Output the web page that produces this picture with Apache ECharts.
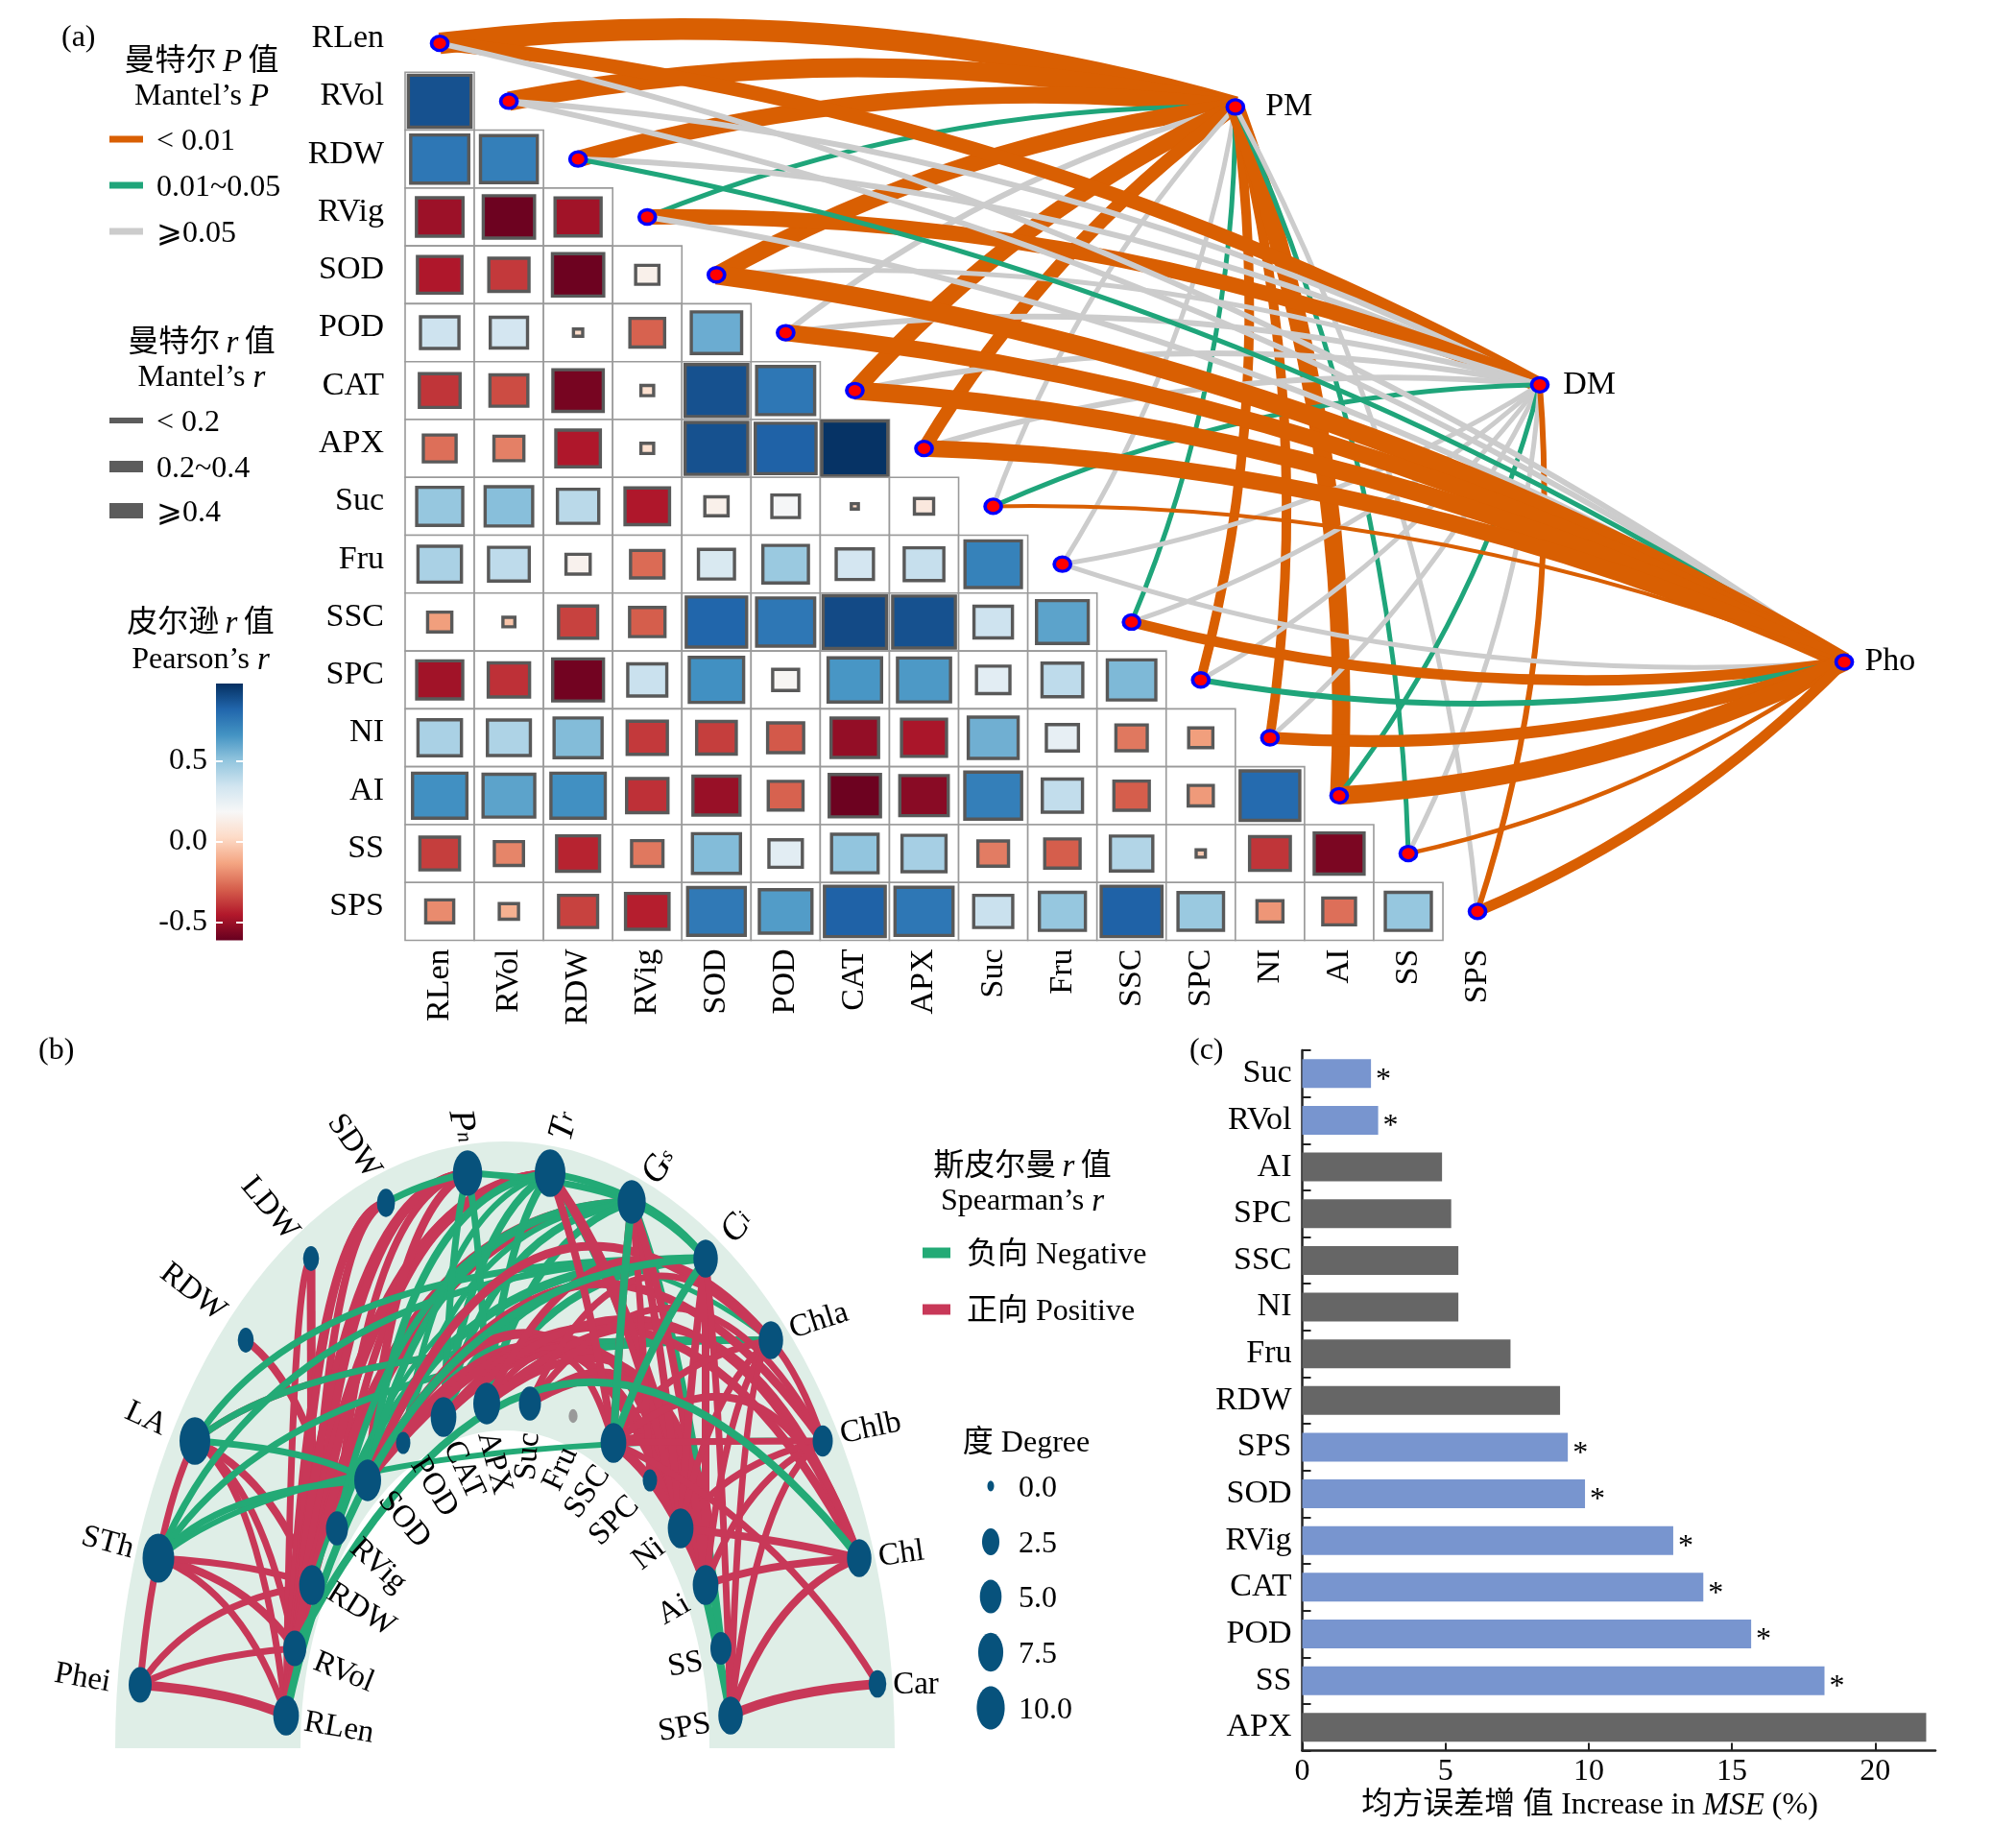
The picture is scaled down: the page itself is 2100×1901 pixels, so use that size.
<!DOCTYPE html>
<html><head><meta charset="utf-8"><style>html,body{margin:0;padding:0;background:#fff}#c{width:2100px;height:1901px}</style>
<script src="https://cdn.jsdelivr.net/npm/echarts@6/dist/echarts.min.js"></script></head><body><div id="c"></div>
<script>
// ---------- Panel (a) data ----------
const traits = ['RLen','RVol','RDW','RVig','SOD','POD','CAT','APX','Suc','Fru','SSC','SPC','NI','AI','SS','SPS'];
const corrLower = [
 [],
 [.88],
 [.76,.73],
 [-.5,-.6,-.49],
 [-.46,-.38,-.6,.14],
 [.35,.33,.03,-.29,.58],
 [-.39,-.34,-.58,.05,.88,.76],
 [-.26,-.22,-.46,.05,.88,.83,.97],
 [.49,.52,.40,-.46,.14,.19,.02,.10],
 [.44,.39,.15,-.27,.31,.48,.33,.37,.72],
 [-.15,-.045,-.36,-.3,.82,.76,.9,.88,.35,.61],
 [-.49,-.40,-.59,.36,.67,.17,.65,.64,.27,.39,.54],
 [.44,.43,.53,-.38,-.37,-.31,-.52,-.47,.57,.25,-.24,-.15],
 [.67,.61,.67,-.40,-.51,-.29,-.6,-.54,.73,.38,-.30,-.16,.80],
 [-.37,-.21,-.43,-.24,.53,.27,.5,.45,-.23,-.30,.42,-.03,-.39,-.57],
 [-.195,-.10,-.36,-.44,.75,.63,.83,.76,.36,.49,.83,.48,-.17,-.26,.49]
];
const envNames = ['PM','DM','Pho'];
const envX = [11.5,15.9,20.3];
const envY = [1.1,5.9,10.69];
// 0: P<0.01, 1: 0.01~0.05, 2: >=0.05
const pClassPM  = [0,0,0,1,0,2,0,0,2,2,1,0,0,0,1,2];
const pClassDM  = [0,2,2,0,2,2,2,2,1,2,2,2,2,1,2,0];
const pClassPho = [2,2,1,2,0,0,0,0,0,2,0,1,0,0,0,0];
const mantelRPM  = [.45,.40,.35,.10,.35,.12,.35,.28,.10,.10,.10,.20,.20,.38,.10,.10];
const mantelRDM  = [.30,.12,.12,.32,.10,.12,.12,.12,.10,.10,.10,.10,.10,.10,.10,.12];
const mantelRPho = [.12,.12,.10,.12,.40,.35,.38,.35,.08,.10,.22,.12,.25,.38,.09,.22];
const colorTicks = [-0.5,0,0.5];
// ---------- Panel (b) data ----------
const netKeys = ['Phei','STh','LA','RDWo','LDW','SDW','Pn','Tr','Gs','Ci','Chla','Chlb','Chl','Car','RLen','RVol','RDWi','RVig','SOD','POD','CAT','APX','Suc','Fru','SSC','SPC','Ni','Ai','SS','SPS'];
const netX = [146,165,203,256,324,402,487,573,658,735,803,857,895,914,298,307,325,351,383,420,462,507,552,597,639,677,709,735,751,761];
const netY = [1755,1623,1501,1396,1311,1253,1222,1222,1252,1311,1396,1501,1623,1754,1787,1717,1651,1592,1542,1503,1476,1462,1462,1475,1503,1542,1592,1651,1717,1787];
const netDegree = [5.9,13.8,12.8,1.9,1.9,2.9,11.4,12.8,10.1,7,7,4,7,2.7,8,5.9,8,5.2,9,1.3,8,9,5.2,0.1,8,1.3,8,8,4.6,7];
const netPosLeft = [
 ['Phei','RLen',1],['Phei','STh',.7],['Phei','RVol',.7],['Phei','RDWi',.7],['STh','RLen',.7],['STh','RVol',.8],['STh','RDWi',.7],
 ['LA','STh',.7],['LA','RLen',.7],['LA','RVol',.7],['LA','RDWi',.8],['LA','Chla',.7],
 ['RDWo','RVig',.8],['LDW','RDWi',.9],['LDW','RLen',.7],['SDW','RLen',.8],['SDW','RVol',.8],['SDW','RDWi',.8],
 ['RLen','Pn',.9],['RVol','Pn',.9],['RDWi','Pn',.9],['RVig','Pn',.8],['RLen','Tr',.9],['RVol','Tr',.9],['RDWi','Tr',.9],['RVig','Tr',.8],
 ['RLen','Gs',.9],['RVol','Gs',.9],['RDWi','Gs',.9],['SOD','Pn',.9]
];
const netNeg = [
 ['SDW','Pn',.7],['LA','Ci',.7],['LA','Chla',.7],['STh','Ci',.7],['STh','Chla',.7],['STh','Chlb',.6],
 ['LA','SOD',.7],['STh','SOD',.7],['RDWi','Chla',.5],
 ['RVig','Gs',.7],['RVig','Ci',.7],['SOD','Tr',.8],['SOD','Gs',.8],['SOD','Ci',.9],['POD','Tr',.6],['POD','Gs',.6],
 ['CAT','Pn',.7],['CAT','Tr',.8],['CAT','Gs',.8],['CAT','Ci',.8],['APX','Pn',.7],['APX','Tr',.8],['APX','Gs',.8],['APX','Ci',.8],
 ['Pn','Gs',.7],['Tr','Ci',.7],['Gs','Ci',.8],['Gs','SS',.9],['Tr','SPS',.8]
];
const netPosRight = [
 ['SOD','Ni',1],['SOD','Ai',1],['SOD','Chla',.9],['SOD','Chlb',.9],['SOD','Chl',.9],
 ['CAT','Ni',.8],['CAT','Ai',.8],['CAT','Chl',.8],['APX','Ni',.8],['APX','Ai',.8],['APX','SSC',.7],['APX','Chla',.8],['APX','Chl',.8],
 ['Suc','Ni',.8],['Suc','Ai',.8],['Suc','Chla',.7],['Suc','Chlb',.7],['SSC','Ni',1],['SSC','Ai',1],['Ni','Ai',.9],
 ['Tr','SSC',.8],['Tr','Ni',.8],['Tr','Ai',.8],['Gs','SSC',.8],['Gs','Ni',.8],['Gs','Ai',.8],['Gs','SPC',.7],
 ['Ci','Ni',.8],['Ci','Ai',.8],['Ci','SPS',.7],['Chla','Ni',.7],['Chla','Ai',.7],['Chla','SSC',.7],['Chla','Chlb',.7],['Chla','SPS',.7],
 ['Chlb','Ni',.7],['Chlb','Ai',.7],['Chlb','SSC',.7],['Chlb','SPS',.7],
 ['Chl','SSC',.8],['Chl','Ni',.8],['Chl','Ai',.8],['Chl','SPS',.8],['Car','SPS',1],['Car','SSC',.7]
];
const netNegLate = [['RLen','Ci',.8],['RVol','Chl',.8],['Gs','SSC',.8],['Ci','SSC',.8]];
// ---------- Panel (c) data ----------
const mseNames = ['Suc','RVol','AI','SPC','SSC','NI','Fru','RDW','SPS','SOD','RVig','CAT','POD','SS','APX'];
const mseValues = [2.4,2.65,4.88,5.2,5.45,5.45,7.27,9.0,9.27,9.87,12.95,14.0,15.67,18.23,21.78];
const mseSignificant = [1,1,0,0,0,0,0,0,1,1,1,1,1,1,0];
const mseTicks = [0,5,10,15,20];

// ---------- helpers ----------
const FONT = '"Liberation Serif","DejaVu Serif","Noto Sans CJK SC",serif';
const rdbu = ['#67001f','#b2182b','#d6604d','#f4a582','#fddbc7','#f7f7f7','#d1e5f0','#92c5de','#4393c3','#2166ac','#053061'];
const rMin=-0.613, rMax=0.978;
function hex(c){return [1,3,5].map(i=>parseInt(c.substr(i,2),16));}
function rColor(v){
  let t=(v-rMin)/(rMax-rMin)*(rdbu.length-1); t=Math.max(0,Math.min(rdbu.length-1.0001,t));
  const i=Math.floor(t), f=t-i, a=hex(rdbu[i]), b=hex(rdbu[i+1]);
  return 'rgb('+a.map((x,k)=>Math.round(x+(b[k]-x)*f)).join(',')+')';
}
const rich = {
  c:{fontFamily:FONT,fontSize:32,color:'#000'},
  i:{fontFamily:FONT,fontSize:33,fontStyle:'italic',color:'#000'}
};
const nodeRich = {
  i:{fontFamily:FONT,fontSize:38,fontStyle:'italic',color:'#000'},
  s:{fontFamily:FONT,fontSize:22,fontStyle:'italic',color:'#000'}
};
function txt(x,y,t,o){o=o||{};return {type:'text',x:x,y:y+3,z:50,style:{text:t,fontSize:o.size||32,fontFamily:FONT,fill:'#000',align:o.align||'left',verticalAlign:'middle',rich:rich}};}
function key(x,y,w,h,c){return {type:'rect',z:50,shape:{x:x,y:y-h/2,width:w,height:h},style:{fill:c}};}
const pColors=['#d95f02','#1fa57a','#cccccc'];
const keyGrey='#5c5c5c';
const NEG='#23aa76', POS='#c83858', NODE='#07527c';
const dotW=d=>7+7*Math.sqrt(d);

// ---------- derived series data ----------
const cells=[]; corrLower.forEach((row,j)=>row.forEach((r,i)=>cells.push([i,j,r])));
const mantelLinks=[];
[[pClassPM,mantelRPM],[pClassDM,mantelRDM],[pClassPho,mantelRPho]].forEach((arr,e)=>{
  traits.forEach((t,i)=>mantelLinks.push({
    coords:[[i,i],[envX[e],envY[e]]],
    lineStyle:{color:pColors[arr[0][i]],width:arr[1][i]*50,curveness:i<=8?0.1:-0.1,opacity:1}
  }));
});
const nodeScatter=traits.map((t,i)=>[i,i]);
const envDist=[21,14,11];
const envScatter=envNames.map((n,i)=>({value:[envX[i],envY[i]],name:n,label:{distance:envDist[i]}}));
const innerStart=netKeys.indexOf('RLen');
function edgeRows(list,color){return list.map(e=>{
  let a=netKeys.indexOf(e[0]),b=netKeys.indexOf(e[1]);
  if(netX[a]>netX[b]){const t=a;a=b;b=t;}
  const inners=(a>=innerStart?1:0)+(b>=innerStart?1:0);
  return {value:[netX[a],netY[a],netX[b],netY[b],e[2],inners],itemStyle:{color:color}};
});}
const netEdges=[].concat(edgeRows(netPosLeft,POS),edgeRows(netNeg,NEG),edgeRows(netPosRight,POS),edgeRows(netNegLate,NEG));
const netNodes=netKeys.map((k,i)=>[netX[i],netY[i],netDegree[i]]);
const netLabels=[
 [86,1748,-10,'Phei'],[112,1607,-15,'STh'],[152,1478,-25,'LA'],[201,1346,-38,'RDW'],[281,1259,-50,'LDW'],[369,1194,-55,'SDW'],
 [481,1173,-80,'{i|P}{s|n}'],[588,1173,75,'{i|T}{s|r}'],[687,1215,55,'{i|G}{s|s}'],[768,1278,50,'{i|C}{s|i}'],
 [853,1376,18,'Chla'],[907,1488,12,'Chlb'],[939,1619,8,'Chl'],[954,1755,0,'Car'],
 [353,1800,-10,'RLen'],[358,1742,-22,'RVol'],[376,1677,-32,'RDW'],[394,1631,-42,'RVig'],[421,1583,-50,'SOD'],[452,1549,-58,'POD'],
 [483,1531,-65,'CAT'],[515,1524,-75,'APX'],[550,1517,85,'Suc'],[584,1530,65,'Fru'],[612,1554,55,'SSC'],[640,1584,45,'SPC'],
 [676,1619,38,'Ni'],[702,1677,30,'Ai'],[714,1734,10,'SS'],[713,1800,10,'SPS']
].map(l=>({value:[l[0],l[1]],label:{formatter:l[3],rotate:l[2],rich:nodeRich}}));

// ---------- legends ----------
const gfx=[
 txt(64,37,'(a)'),txt(40,1092,'(b)'),txt(1239,1092,'(c)'),
 txt(210,62,'{c|曼特尔\u2009}{i|P}{c|\u2009值}',{align:'center'}),txt(210,98,'{c|Mantel’s }{i|P}',{align:'center'}),
 key(114,145,35,7,pColors[0]),txt(163,145,'< 0.01'),
 key(114,193,35,7,pColors[1]),txt(163,193,'0.01~0.05'),
 key(114,241,35,7,pColors[2]),txt(163,241,'⩾0.05'),
 txt(210,355,'{c|曼特尔\u2009}{i|r}{c|\u2009值}',{align:'center'}),txt(210,391,'{c|Mantel’s }{i|r}',{align:'center'}),
 key(114,438,35,6,keyGrey),txt(163,438,'< 0.2'),
 key(114,486,35,12,keyGrey),txt(163,486,'0.2~0.4'),
 key(114,532,35,16,keyGrey),txt(163,532,'⩾0.4'),
 txt(209,647,'{c|皮尔逊\u2009}{i|r}{c|\u2009值}',{align:'center'}),txt(209,685,'{c|Pearson’s }{i|r}',{align:'center'}),
 txt(1065,1213,'{c|斯皮尔曼\u2009}{i|r}{c|\u2009值}',{align:'center'}),txt(1065,1249,'{c|Spearman’s }{i|r}',{align:'center'}),
 key(961,1305,29,11,NEG),txt(1007,1305,'负向 Negative'),
 key(961,1364,29,11,POS),txt(1007,1364,'正向 Positive'),
 txt(1069,1501,'度 Degree',{align:'center'}),
 txt(1656,1878,'{c|均方误差增 值 Increase in }{i|MSE}{c| (%)}',{align:'center'})
];
[[0,1548],[2.5,1606],[5,1663],[7.5,1721],[10,1779]].forEach(d=>{
  const w=dotW(d[0]);
  gfx.push({type:'ellipse',z:50,shape:{cx:1032,cy:d[1],rx:w/2,ry:w*.775},style:{fill:NODE}});
  gfx.push(txt(1061,d[1],d[0].toFixed(1)));
});

const ringCx=526, ringBase=1821, ringOut=[406,632], ringIn=[213,331];
const axisTextC={fontFamily:FONT,fontSize:32,color:'#000'};
const axisText34={fontFamily:FONT,fontSize:34,color:'#000'};

const option={
 animation:false, backgroundColor:'#fff',
 grid:[
  {left:422,top:15,width:1549.5,height:964.5},
  {left:225,top:712,width:28,height:267.4},
  {left:0,top:1100,width:1000,height:800},
  {left:1356.5,top:1094,width:659.5,height:729.6}
 ],
 xAxis:[
  {gridIndex:0,type:'value',min:-0.5,max:21,splitLine:{show:false},axisLine:{show:false},axisTick:{show:false},
   axisLabel:Object.assign({customValues:traits.map((t,i)=>i),formatter:v=>traits[v],rotate:90,margin:9},axisText34)},
  {gridIndex:1,type:'value',min:0,max:1,show:false},
  {gridIndex:2,type:'value',min:0,max:1000,show:false},
  {gridIndex:3,type:'value',min:0,max:22.1,splitLine:{show:false},
   axisLine:{show:true,lineStyle:{color:'#222',width:2.5}},
   axisTick:{show:true,inside:true,length:8,customValues:mseTicks,lineStyle:{color:'#222',width:2}},
   axisLabel:Object.assign({customValues:mseTicks,margin:6,formatter:v=>String(v)},axisTextC)}
 ],
 yAxis:[
  {gridIndex:0,type:'value',inverse:true,min:-0.5,max:15.5,splitLine:{show:false},axisLine:{show:false},axisTick:{show:false},
   axisLabel:Object.assign({customValues:traits.map((t,i)=>i),formatter:v=>traits[v],margin:22,verticalAlign:'bottom',lineHeight:10},axisText34)},
  {gridIndex:1,type:'value',min:rMin,max:rMax,z:10,splitLine:{show:false},axisLine:{show:false},
   axisTick:{show:true,inside:true,length:7,customValues:colorTicks,lineStyle:{color:'#fff',width:2}},
   axisLabel:Object.assign({customValues:colorTicks,margin:9,formatter:v=>v.toFixed(1)},axisTextC)},
  {gridIndex:1,type:'value',position:'right',min:rMin,max:rMax,z:10,splitLine:{show:false},axisLine:{show:false},
   axisLabel:{show:false},axisTick:{show:true,inside:true,length:7,customValues:colorTicks,lineStyle:{color:'#fff',width:2}}},
  {gridIndex:2,type:'value',inverse:true,min:1100,max:1900,show:false},
  {gridIndex:3,type:'category',inverse:true,data:mseNames,
   axisLine:{show:true,lineStyle:{color:'#222',width:2.5}},
   axisTick:{show:true,inside:true,length:9,alignWithLabel:false,lineStyle:{color:'#222',width:2}},
   axisLabel:Object.assign({margin:11},axisText34)}
 ],
 series:[
  {type:'custom',xAxisIndex:0,yAxisIndex:0,data:cells,clip:false,z:2,encode:{x:0,y:1},
   renderItem:(p,api)=>{
     const c=api.coord([api.value(0),api.value(1)]), s=api.size([1,1]), r=api.value(2), f=Math.sqrt(Math.abs(r)/.98);
     const w=Math.max(6,f*s[0]-3), h=Math.max(5,f*s[1]-3);
     return {type:'group',children:[
       {type:'rect',shape:{x:c[0]-s[0]/2,y:c[1]-s[1]/2,width:s[0],height:s[1]},style:{fill:'#fff',stroke:'#9a9a9a',lineWidth:1.6}},
       {type:'rect',shape:{x:c[0]-w/2,y:c[1]-h/2,width:w,height:h},style:{fill:rColor(r),stroke:'#595959',lineWidth:3.4}}
     ]};
   }},
  {type:'lines',coordinateSystem:'cartesian2d',xAxisIndex:0,yAxisIndex:0,polyline:false,silent:true,z:3,data:mantelLinks,symbol:'none',effect:{show:false}},
  {type:'scatter',xAxisIndex:0,yAxisIndex:0,data:nodeScatter,symbol:'circle',symbolSize:[17,15],z:4,
   itemStyle:{color:'#ff0000',borderColor:'#0000ff',borderWidth:3.5,opacity:1}},
  {type:'scatter',xAxisIndex:0,yAxisIndex:0,data:envScatter,symbol:'circle',symbolSize:[17,15],z:4,
   itemStyle:{color:'#ff0000',borderColor:'#0000ff',borderWidth:3.5,opacity:1},
   label:{show:true,position:'right',formatter:p=>p.name,fontFamily:FONT,fontSize:34,color:'#000'}},
  {type:'custom',xAxisIndex:1,yAxisIndex:1,data:[[0,rMin,1,rMax]],z:2,clip:false,encode:{y:[1,3]},
   renderItem:(p,api)=>{
     const a=api.coord([0,rMax]), b=api.coord([1,rMin]);
     const stops=rdbu.map((c,i)=>({offset:1-i/(rdbu.length-1),color:c})).reverse();
     return {type:'rect',shape:{x:a[0],y:a[1],width:b[0]-a[0],height:b[1]-a[1]},
       style:{fill:new echarts.graphic.LinearGradient(0,0,0,1,stops)}};
   }},
  {type:'custom',xAxisIndex:2,yAxisIndex:3,data:[[ringCx,ringBase]],z:1,clip:false,silent:true,encode:{x:0,y:1},
   renderItem:(p,api)=>{
     const pts=[];
     for(let k=0;k<=72;k++){const t=Math.PI*k/72;pts.push(api.coord([ringCx-ringOut[0]*Math.cos(t),ringBase-ringOut[1]*Math.sin(t)]));}
     for(let k=72;k>=0;k--){const t=Math.PI*k/72;pts.push(api.coord([ringCx-ringIn[0]*Math.cos(t),ringBase-ringIn[1]*Math.sin(t)]));}
     return {type:'polygon',shape:{points:pts},style:{fill:'#dfeee7'}};
   }},
  {type:'custom',xAxisIndex:2,yAxisIndex:3,data:netEdges,z:3,clip:false,silent:true,encode:{x:0,y:1},
   renderItem:(p,api)=>{
     const a=api.coord([api.value(0),api.value(1)]), b=api.coord([api.value(2),api.value(3)]);
     const Y=1.55, inners=api.value(5), dx=b[0]-a[0], rawDy=b[1]-a[1], dy=rawDy/Y, d=Math.hypot(dx,dy);
     const ratio=Math.abs(rawDy)/Math.max(1,dx);
     const mx=(a[0]+b[0])/2, my=(a[1]+b[1])/2;
     let cx, cy;
     const arch = (inners===2 && d>120) ? 0.7 : (inners===1 && ratio<0.55 && dx>240) ? 0.5 : 0;
     if(arch){ cx=mx+arch*dy; cy=(my/Y-arch*dx)*Y; }
     else {
       // steep at the lower end, flat on arrival at the higher end
       const low=a[1]>b[1]?a:b, high=a[1]>b[1]?b:a;
       const qx=low[0]+0.2*(high[0]-low[0]), qy=high[1]-(d>300?15:0);
       let w=0.9*Math.min(1,d/270);
       if(inners===1 && low[0]>560 && high[0]<760) w*=0.4;
       cx=mx+w*(qx-mx); cy=my+w*(qy-my);
     }
     return {type:'bezierCurve',shape:{x1:a[0],y1:a[1],x2:b[0],y2:b[1],cpx1:cx,cpy1:cy},
       style:{fill:null,stroke:api.visual('color'),lineWidth:api.value(4)*10}};
   }},
  {type:'scatter',xAxisIndex:2,yAxisIndex:3,data:netNodes,z:5,symbol:'circle',
   symbolSize:v=>[dotW(v[2]),dotW(v[2])*1.55],
   itemStyle:{opacity:1,color:p=>p.value[2]<0.5?'#999999':NODE}},
  {type:'scatter',xAxisIndex:2,yAxisIndex:3,data:netLabels,z:6,symbolSize:1,itemStyle:{color:'rgba(0,0,0,0)',opacity:1},
   label:{show:true,position:'inside',align:'center',verticalAlign:'middle',fontFamily:FONT,fontSize:33,color:'#000'}},
  {type:'bar',xAxisIndex:3,yAxisIndex:4,barWidth:30,z:2,
   data:mseValues.map((v,i)=>({value:v,itemStyle:{color:mseSignificant[i]?'#7895cf':'#666666'},
     label:{show:!!mseSignificant[i],position:'right',formatter:'*',distance:5,offset:[0,7],fontFamily:FONT,fontSize:32,color:'#000'}}))}
 ],
 graphic:{elements:gfx}
};
const chart=echarts.init(document.getElementById('c'),null,{renderer:'canvas',width:2100,height:1901});
chart.setOption(option);
</script></body></html>
